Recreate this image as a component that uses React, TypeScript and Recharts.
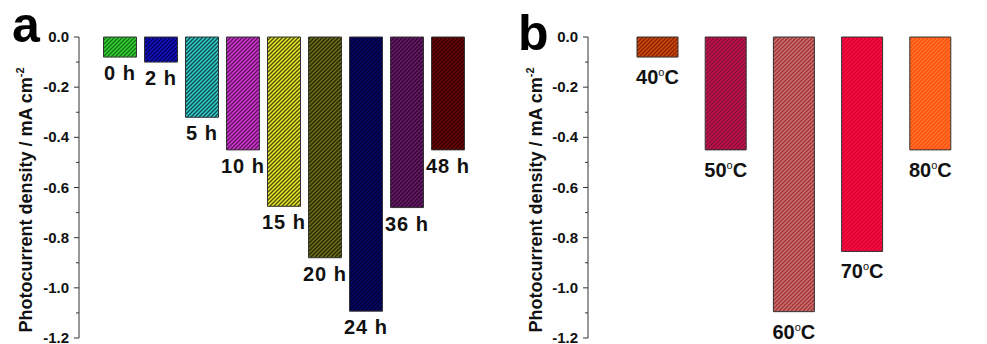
import React from 'react';
import { BarChart, Bar, XAxis, YAxis, Cell, LabelList } from 'recharts';

// panel a: ageing time
const timeLabels = ['0 h', '2 h', '5 h', '10 h', '15 h', '20 h', '24 h', '36 h', '48 h'];
const timeValues = [-0.08, -0.1, -0.32, -0.45, -0.675, -0.88, -1.093, -0.68, -0.45];
const timeFills = ['#36d236', '#1414c4', '#34d0d0', '#d434d4', '#eaea30', '#6e6e1c', '#06066a', '#6a1a6a', '#6a0606'];
const timeHatch = ['#147014', '#00005a', '#0c4a4a', '#5a145a', '#4a4a00', '#262600', '#000030', '#300630', '#300000'];

// panel b: temperature
const tempLabels = ['40', '50', '60', '70', '80'];
const tempValues = [-0.08, -0.45, -1.095, -0.855, -0.45];
const tempFills = ['#cc4c10', '#c8104a', '#a83232', '#ff0c40', '#ff4a10'];
const tempHatch = ['#8c2000', '#80103c', '#c87878', '#d00030', '#ff7a28'];

const yTicks = [0, -0.1, -0.2, -0.3, -0.4, -0.5, -0.6, -0.7, -0.8, -0.9, -1.0, -1.1, -1.2];

const FONT = '"Liberation Sans", Arial, sans-serif';

const dataA = timeLabels.map((name, i) => ({ name, v: timeValues[i] }));
const dataB = tempLabels.map((name, i) => ({ name, v: tempValues[i] }));

function YTick(props: any) {
  const { x, y, payload } = props;
  const v = payload.value as number;
  const major = Math.round(Math.abs(v) * 10) % 2 === 0;
  return (
    <g>
      <line x1={x - (major ? 5 : 3)} x2={x} y1={y} y2={y} stroke="#333" />
      {major && (
        <text x={x - 10} y={y} dy={5} textAnchor="end" fontFamily={FONT} fontWeight="bold" fontSize={15} fill="#111">
          {v.toFixed(1)}
        </text>
      )}
    </g>
  );
}

function bottomOf(p: any) {
  const y = Number(p.y);
  const h = Number(p.height);
  return Math.max(y, y + h);
}

function TimeLabel(props: any) {
  const { x, width, value } = props;
  return (
    <text x={Number(x) + Number(width) / 2} y={bottomOf(props) + 23} textAnchor="middle" fontFamily={FONT}
      fontWeight="bold" fontSize={20} letterSpacing={1} fill="#111">
      {value}
    </text>
  );
}

function TempLabel(props: any) {
  const { x, width, value } = props;
  return (
    <text x={Number(x) + Number(width) / 2} y={bottomOf(props) + 27} textAnchor="middle" fontFamily={FONT}
      fontWeight="bold" fontSize={20} fill="#111">
      {value}
      <tspan dy={-8} fontSize={11} fontWeight="normal">o</tspan>
      <tspan dy={8}>C</tspan>
    </text>
  );
}

function Pattern({ id, fill, line }: { id: string; fill: string; line: string }) {
  return (
    <pattern id={id} patternUnits="userSpaceOnUse" width={4} height={4}>
      <rect width={4} height={4} fill={fill} />
      <path d="M-1,1 L1,-1 M0,4 L4,0 M3,5 L5,3" stroke={line} strokeWidth={1.3} />
    </pattern>
  );
}

export default function App() {
  return (
    <div style={{ position: 'absolute', left: 0, top: 0, width: 987, height: 344, overflow: 'hidden', background: '#fff' }}>
      <div style={{ position: 'absolute', left: 0, top: 0 }}>
        <BarChart width={500} height={344} data={dataA} margin={{ top: 37, right: 11, bottom: 6, left: 19 }}>
          <XAxis dataKey="name" orientation="top" height={0} padding={{ left: 20.5, right: 20.5 }}
            tickSize={5} tickLine={{ stroke: '#111' }} axisLine={{ stroke: '#111' }} tickFormatter={() => ''} />
          <YAxis width={60} domain={[-1.2, 0]} ticks={yTicks} interval={0} tickSize={0} tickMargin={0}
            tickLine={false} axisLine={{ stroke: '#333' }} tick={<YTick />} />
          <YAxis yAxisId="right" orientation="right" width={0} domain={[-1.2, 0]} tick={false} tickLine={false}
            axisLine={{ stroke: '#111' }} />
          <Bar dataKey="v" barSize={33} stroke="#333" strokeWidth={1} isAnimationActive={false}>
            {dataA.map((d, i) => (
              <Cell key={d.name} fill={`url(#pa${i})`} />
            ))}
            <LabelList dataKey="name" content={<TimeLabel />} />
          </Bar>
        </BarChart>
      </div>
      <div style={{ position: 'absolute', left: 500, top: 0 }}>
        <BarChart width={510} height={344} data={dataB} margin={{ top: 37, right: 12.5, bottom: 6, left: 28 }}>
          <XAxis dataKey="name" orientation="top" height={0} padding={{ left: 35, right: 33.5 }}
            tickLine={false} axisLine={{ stroke: '#111' }} tickFormatter={() => ''} />
          <YAxis width={60} domain={[-1.2, 0]} ticks={yTicks} interval={0} tickSize={0} tickMargin={0}
            tickLine={false} axisLine={{ stroke: '#333' }} tick={<YTick />} />
          <YAxis yAxisId="right" orientation="right" width={0} domain={[-1.2, 0]} tick={false} tickLine={false}
            axisLine={{ stroke: '#111' }} />
          <Bar dataKey="v" barSize={41} stroke="#333" strokeWidth={1} isAnimationActive={false}>
            {dataB.map((d, i) => (
              <Cell key={d.name} fill={`url(#pb${i})`} />
            ))}
            <LabelList dataKey="name" content={<TempLabel />} />
          </Bar>
        </BarChart>
      </div>
      <svg width={987} height={344} style={{ position: 'absolute', left: 0, top: 0, pointerEvents: 'none' }}>
        <defs>
          {timeFills.map((f, i) => (
            <Pattern key={`a${i}`} id={`pa${i}`} fill={f} line={timeHatch[i]} />
          ))}
          {tempFills.map((f, i) => (
            <Pattern key={`b${i}`} id={`pb${i}`} fill={f} line={tempHatch[i]} />
          ))}
        </defs>
        <text x={12} y={42} fontFamily={FONT} fontWeight="bold" fontSize={50} fill="#000">a</text>
        <text x={518} y={50} fontFamily={FONT} fontWeight="bold" fontSize={50} fill="#000">b</text>
        {[32, 542].map((x) => (
          <text key={x} x={x} y={200} transform={`rotate(-90, ${x}, 200)`} textAnchor="middle"
            fontFamily={FONT} fontWeight="bold" fontSize={18} fill="#111">
            Photocurrent density / mA cm
            <tspan dy={-8} fontSize={11}>-2</tspan>
          </text>
        ))}
      </svg>
    </div>
  );
}
